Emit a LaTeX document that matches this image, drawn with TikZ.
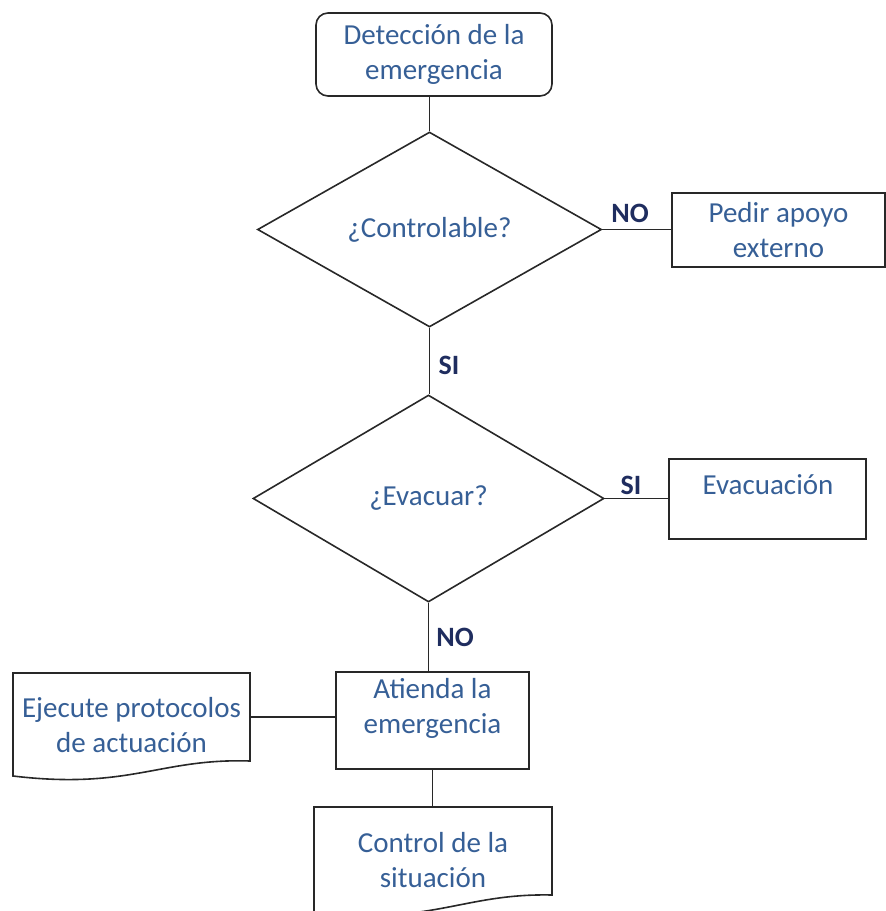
\documentclass[tikz,border=0pt]{standalone}
\usepackage{fontspec}
\setmainfont{Carlito}
\usetikzlibrary{shapes.geometric}
\definecolor{txtblue}{RGB}{54,95,150}
\definecolor{lblnavy}{RGB}{31,45,95}
\definecolor{linec}{RGB}{40,40,40}
\begin{document}
\begin{tikzpicture}[x=1pt,y=-1pt,line width=1.5pt,
  every node/.style={font=\fontsize{29}{35}\selectfont,text=txtblue,align=center,inner sep=0pt},
  ln/.style={draw=linec,line width=1.6pt},
  box/.style={ln,rectangle},
  diam/.style={ln,diamond},
  lbl/.style={font=\fontsize{28}{30}\selectfont\bfseries,text=lblnavy}]
\useasboundingbox (0,0) rectangle (886,911);
\clip (0,0) rectangle (886,911);
% nodes
\node[ln,rounded corners=12pt,minimum width=236pt,minimum height=83pt] (det) at (434,54.5) {Detección de la\\emergencia};
\node[diam,minimum width=344pt,minimum height=195pt] (d1) at (429.5,229.5) {¿Controlable?};
\node[box,minimum width=213pt,minimum height=74pt] (pedir) at (778.5,230) {Pedir apoyo\\externo};
\node[diam,minimum width=351pt,minimum height=207pt] (d2) at (428.5,498.5) {¿Evacuar?};
\node[box,minimum width=197pt,minimum height=80pt] (evac) at (767.5,499) {};
\node (evacT) at (768,485) {Evacuación};
\node[box,minimum width=193pt,minimum height=97pt] (aten) at (432.5,720.5) {};
\node (atenT) at (432.5,708) {Atienda la\\emergencia};
% document shapes
\draw[ln] (13,673) -- (250,673) -- (250,761) .. controls (160,758) and (130,790) .. (13,776) -- cycle;
\coordinate (ejR) at (250,717);
\node (ejT) at (131.5,725) {Ejecute protocolos\\de actuación};
\draw[ln] (314,807) -- (552,807) -- (552,895) .. controls (462,893) and (432,926) .. (314,912) -- cycle;
\coordinate (ctTop) at (433,807);
\node (ctT) at (433,860) {Control de la\\situación};
% connectors
\draw[ln] (d1.north |- det.south) -- (d1.north);
\draw[ln] (d1.east) -- (pedir.west |- d1.east);
\draw[ln] (d1.south) -- (d1.south |- d2.north);
\draw[ln] (d2.east) -- (evac.west |- d2.east);
\draw[ln] (d2.south) -- (d2.south |- aten.north);
\draw[ln] (ejR) -- (ejR -| aten.west);
\draw[ln] (aten.south) -- (aten.south |- ctTop);
% labels
\node[lbl] (no1) at (630,213) {NO};
\node[lbl] (si1) at (449,365) {SI};
\node[lbl] (si2) at (631,485) {SI};
\node[lbl] (no2) at (455,637) {NO};
\end{tikzpicture}
\end{document}
